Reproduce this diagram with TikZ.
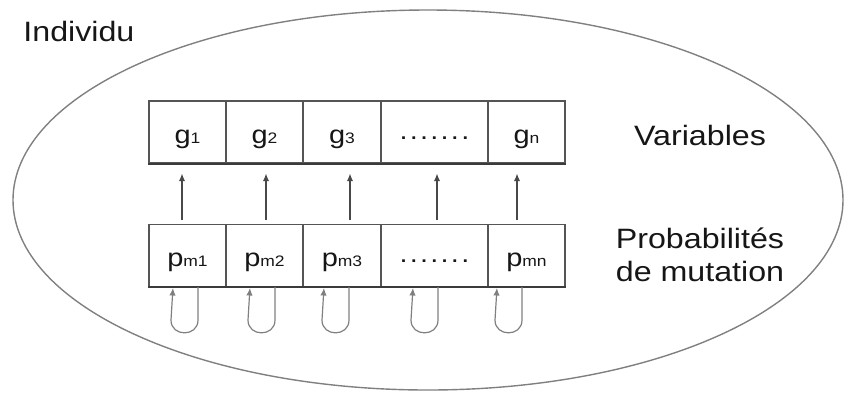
\documentclass[tikz,border=0pt]{standalone}
\usepackage{fontspec}
\setmainfont{Liberation Sans}[FakeStretch=1.15]
\usetikzlibrary{shapes.geometric,arrows.meta}

\definecolor{inkc}{HTML}{161616}
\definecolor{boxc}{HTML}{555555}
\definecolor{ovalc}{HTML}{808080}

% letter with a small index sitting near the baseline
\newcommand\idx[2]{#1{\fontsize{7.6}{7.6}\selectfont #2}}
% the row of dots standing for the remaining cells
\newcommand\rowdots{\raisebox{2pt}{.\kern1.1pt.\kern1.1pt.\kern1.1pt.\kern1.1pt.\kern1.1pt.\kern1.1pt.}}

\tikzset{
  cell/.style={draw=boxc, line width=0.6pt, rectangle, minimum height=31pt,
    inner sep=0pt, text height=12pt, text depth=1pt, text=inkc,
    font=\fontsize{12.6}{13}\selectfont},
  label/.style={text=inkc, font=\fontsize{14}{17}\selectfont, inner sep=0pt},
  uparrow/.style={draw=boxc!85!black, line width=0.55pt,
    -{Latex[length=3.8pt,width=3.2pt]}},
  selfloop/.style={draw=boxc!75, line width=0.6pt,
    -{Latex[length=3.8pt,width=3.2pt]}, shorten >=0.4pt},
}

\begin{document}
\begin{tikzpicture}[x=0.5pt, y=-0.5pt]
  \useasboundingbox (0,0) rectangle (845,392);

  % the individual
  \node[draw=ovalc, line width=0.7pt, ellipse, minimum width=415pt,
        minimum height=190pt, inner sep=0pt] (ind) at (428,200) {};
  \node[label, anchor=base west] (indlab) at (23,41) {Individu};

  % row of variables
  \node[cell, minimum width=38.5pt] (g1) at (187.5,132) {\idx{g}{1}};
  \node[cell, minimum width=38.5pt] (g2) at (264.5,132) {\idx{g}{2}};
  \node[cell, minimum width=39pt]   (g3) at (342,132)   {\idx{g}{3}};
  \node[cell, minimum width=53.5pt] (g4) at (434.5,132) {\rowdots};
  \node[cell, minimum width=38.5pt] (g5) at (526.5,132) {\idx{g}{n}};

  % row of mutation probabilities
  \node[cell, minimum width=38.5pt] (p1) at (187.5,255.5) {\idx{p}{m1}};
  \node[cell, minimum width=38.5pt] (p2) at (264.5,255.5) {\idx{p}{m2}};
  \node[cell, minimum width=39pt]   (p3) at (342,255.5)   {\idx{p}{m3}};
  \node[cell, minimum width=53.5pt] (p4) at (434.5,255.5) {\rowdots};
  \node[cell, minimum width=38.5pt] (p5) at (526.5,255.5) {\idx{p}{mn}};

  % darker lower edges of both rows
  \draw[boxc!70!black, line width=0.9pt] (g1.south west) -- (g5.south east);
  \draw[boxc!70!black, line width=0.9pt] (p1.south west) -- (p5.south east);

  % row captions
  \node[label, anchor=base] (varlab) at (700,145) {Variables};
  \node[label, anchor=base] (problab) at (700,248) {Probabilités};
  \node[label, anchor=base] (mutlab) at (700,281) {de mutation};

  % each probability drives its variable
  \foreach \i/\dx in {1/-2.75, 2/0.75, 3/4, 4/1.25, 5/-4.75}
    \draw[uparrow, shorten <=2pt, shorten >=5pt]
      ([xshift=\dx pt]p\i.north) -- ([xshift=\dx pt]g\i.south);

  % each probability updates itself
  \foreach \i/\r in {1/5.25, 2/5.25, 3/3.5, 4/1.75, 5/-2.25}
    \draw[selfloop]
      ([xshift=\r pt]p\i.south) -- ++(0,33)
      .. controls +(0,17) and +(0,17) .. ++(-27,0)
      -- ([xshift=\r pt-12.5pt]p\i.south);
\end{tikzpicture}
\end{document}
